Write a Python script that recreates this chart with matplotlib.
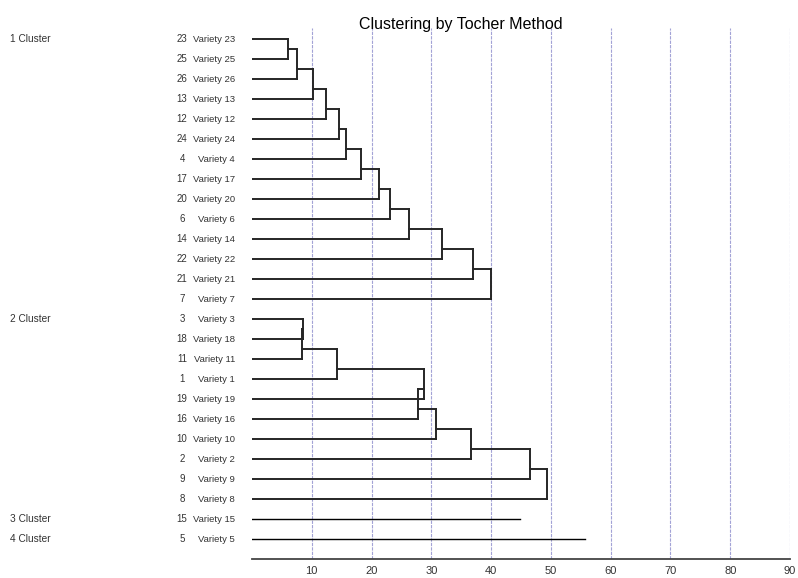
import numpy as np
import matplotlib
matplotlib.use("Agg")
import matplotlib.pyplot as plt
from matplotlib.transforms import blended_transform_factory

plt.rcParams['font.family'] = ['Liberation Sans', 'DejaVu Sans']

# ---------- data ----------
cluster_names = ["1 Cluster", "2 Cluster", "3 Cluster", "4 Cluster"]

# leaf order inside each cluster (variety numbers)
c1_order = [23, 25, 26, 13, 12, 24, 4, 17, 20, 6, 14, 22, 21, 7]
c2_order = [3, 18, 11, 1, 19, 16, 10, 2, 9, 8]
c3_order = [15]
c4_order = [5]

# successive merge distances (one per added leaf)
c1_heights = [5.97, 7.53, 10.26, 12.37, 14.49, 15.66, 18.17, 21.29, 23.13, 26.2, 31.8, 37.0, 40.0]
c2_heights = [8.47, 8.3, 14.2, 28.7, 27.8, 30.7, 36.6, 46.5, 49.3]
c3_heights = [44.9]
c4_heights = [55.7]

xticks = [10, 20, 30, 40, 50, 60, 70, 80, 90]

clusters = [(c1_order, c1_heights), (c2_order, c2_heights),
            (c3_order, c3_heights), (c4_order, c4_heights)]

# ---------- figure ----------
W, H = 798, 578
fig = plt.figure(figsize=(W / 100, H / 100), dpi=100)
ax = fig.add_axes([252 / W, 1 - 559 / H, 538 / W, (559 - 28) / H])

line_col = "#262626"
lw = 1.4
txt_col = "#333333"

def draw_chain(ax, rows, heights, lw):
    if len(rows) == 1:
        ax.plot([0, heights[0]], [rows[0], rows[0]], color="black", lw=1.0)
        return
    h1 = heights[0]
    ax.plot([0, h1], [rows[0], rows[0]], color=line_col, lw=lw)
    ax.plot([0, h1], [rows[1], rows[1]], color=line_col, lw=lw)
    ax.plot([h1, h1], [rows[0], rows[1]], color=line_col, lw=lw)
    cy, ch = (rows[0] + rows[1]) / 2, h1
    for k in range(2, len(rows)):
        hk = heights[k - 1]
        ax.plot([ch, hk], [cy, cy], color=line_col, lw=lw)
        ax.plot([0, hk], [rows[k], rows[k]], color=line_col, lw=lw)
        ax.plot([hk, hk], [cy, rows[k]], color=line_col, lw=lw)
        cy, ch = (rows[k - 1] + rows[k]) / 2, hk

# grid lines
for t in xticks:
    ax.axvline(t, color="#a3a3d6", lw=0.8, ls=(0, (3, 1)), zorder=0)

trans = blended_transform_factory(fig.transFigure, ax.transData)
row = 0
for name, (order, heights) in zip(cluster_names, clusters):
    rows = list(range(row, row + len(order)))
    draw_chain(ax, rows, heights, lw)
    ax.text(10 / W, rows[0], name, transform=trans, ha="left", va="center",
            fontsize=7.3, color=txt_col)
    for r, v in zip(rows, order):
        ax.text(182 / W, r, str(v), transform=trans, ha="center", va="center",
                fontsize=7, color=txt_col)
        ax.text(235 / W, r, f"Variety {v}", transform=trans, ha="right",
                va="center", fontsize=6.8, color=txt_col)
    row += len(order)

ax.set_xlim(0, 90)
ax.set_ylim(26, -0.55)
for s in ["top", "right", "left"]:
    ax.spines[s].set_visible(False)
ax.spines["bottom"].set_color("#444444")
ax.spines["bottom"].set_linewidth(1.3)
ax.set_yticks([])
ax.set_xticks(xticks)
ax.tick_params(axis="x", length=0, pad=5, labelsize=8, labelcolor=txt_col)

fig.text(461 / W, 1 - 24 / H, "Clustering by Tocher Method", ha="center",
         va="center", fontsize=11.5, color="black")

fig.savefig("out.png", dpi=100)
